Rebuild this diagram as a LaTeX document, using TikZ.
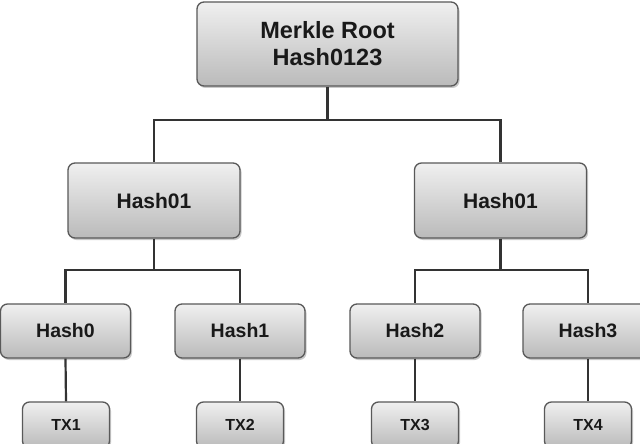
\documentclass[tikz,border=0pt]{standalone}
\usepackage{fontspec}
\setmainfont{Liberation Sans}
\usetikzlibrary{shadows}
\begin{document}
\begin{tikzpicture}[x=1pt,y=-1pt,
  box/.style={draw=black!65, line width=1.3pt, rounded corners=7pt,
    top color=black!6, bottom color=black!27,
    drop shadow={shadow xshift=1.5pt, shadow yshift=-2pt, opacity=0.35, fill=black!60},
    font=\bfseries, text=black!90, align=center, inner sep=0pt},
  rootbox/.style={box, minimum width=261pt, minimum height=84pt, font=\bfseries\fontsize{23.5}{27}\selectfont},
  midbox/.style={box, minimum width=172pt, minimum height=75pt, font=\bfseries\fontsize{21}{24}\selectfont},
  hashbox/.style={box, minimum width=130pt, minimum height=54pt, font=\bfseries\fontsize{19.5}{22}\selectfont},
  txbox/.style={box, minimum width=87pt, minimum height=46pt, font=\bfseries\fontsize{16}{18}\selectfont},
  link/.style={draw=black!80, line width=2.2pt}]
\useasboundingbox (0,0) rectangle (640,444);
\clip (0,0) rectangle (640,444);
\fill[white] (0,0) rectangle (640,444);
% nodes
\node[rootbox] (root) at (327.5,44) {Merkle Root\\Hash0123};
\node[midbox] (hl) at (154,200.5) {Hash01};
\node[midbox] (hr) at (500.5,200.5) {Hash01};
\node[hashbox] (h0) at (65.5,331) {Hash0};
\node[hashbox] (h1) at (240,331) {Hash1};
\node[hashbox] (h2) at (415,331) {Hash2};
\node[hashbox] (h3) at (588,331) {Hash3};
\node[txbox] (t1) at (66,425) {TX1};
\node[txbox] (t2) at (240,425) {TX2};
\node[txbox] (t3) at (415,425) {TX3};
\node[txbox] (t4) at (588,425) {TX4};
% junctions
\coordinate (j0) at (root.south |- 0,120);
\coordinate (jl) at (hl.south |- 0,270);
\coordinate (jr) at (hr.south |- 0,270);
% connectors
\draw[link] (root.south) -- (j0) -| (hl.north);
\draw[link] (j0) -| (hr.north);
\draw[link] (hl.south) -- (jl) -| (h0.north);
\draw[link] (jl) -| (h1.north);
\draw[link] (hr.south) -- (jr) -| (h2.north);
\draw[link] (jr) -| (h3.north);
\draw[link] (h0.south) -- (t1.north);
\draw[link] (h1.south) -- (t2.north);
\draw[link] (h2.south) -- (t3.north);
\draw[link] (h3.south) -- (t4.north);
\end{tikzpicture}
\end{document}
